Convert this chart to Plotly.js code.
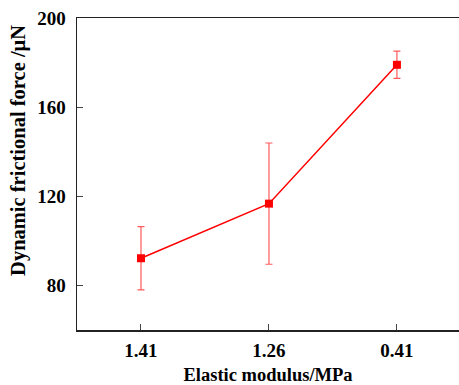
<!DOCTYPE html>
<html><head><meta charset="utf-8">
<script src="https://cdn.plot.ly/plotly-3.0.1.min.js"></script>
<style>html,body{margin:0;padding:0;background:#fff}</style>
</head><body><div id="plot" style="width:459px;height:385px"></div>
<script>
const categories = ["1.41", "1.26", "0.41"];
const forceValues = [92.2, 116.7, 179.0];
const forceErrors = [14.2, 27.2, 6.1];
const yTicks = [80, 120, 160, 200];
const xTitle = "Elastic modulus/MPa";
const yTitle = "Dynamic frictional force /μN";

const fam = "Liberation Serif, Times New Roman, serif";
Plotly.newPlot("plot", [{
  x: categories, y: forceValues, type: "scatter", mode: "lines+markers",
  line: {color: "#ff0000", width: 1.5},
  marker: {symbol: "square", size: 8, color: "#ff0000"},
  error_y: {type: "data", array: forceErrors, visible: true, color: "rgba(255,0,0,0.65)", thickness: 1.2, width: 3.5}
}], {
  width: 459, height: 385,
  margin: {l: 77, r: 0, t: 18, b: 55},
  paper_bgcolor: "#fff", plot_bgcolor: "#fff",
  showlegend: false,
  font: {family: fam, size: 19, color: "#000"},
  xaxis: {
    type: "category", range: [-0.5, 2.485],
    showline: true, linecolor: "#222", linewidth: 1.5, mirror: true,
    ticks: "inside", ticklen: 6, tickcolor: "#444", showgrid: false, zeroline: false,
    ticklabelstandoff: 3,
    tickfont: {family: fam, size: 19, color: "#000", weight: "bold"},
    title: {text: "<b>" + xTitle + "</b>", font: {family: fam, size: 18.5, color: "#000"}, standoff: 8}
  },
  yaxis: {
    range: [60, 200], tickvals: yTicks,
    showline: true, linecolor: "#222", linewidth: 1.5,
    ticks: "inside", ticklen: 6, tickcolor: "#444", showgrid: false, zeroline: false,
    ticklabelstandoff: 6,
    tickfont: {family: fam, size: 19, color: "#000", weight: "bold"}
  },
  annotations: [{
    text: "<b>" + yTitle + "</b>", xref: "paper", yref: "paper",
    x: -0.152, y: 0.577, xanchor: "center", yanchor: "middle", textangle: -90,
    showarrow: false, font: {family: fam, size: 20.5, color: "#000"}
  }]
}, {displayModeBar: false, staticPlot: true});
</script></body></html>
